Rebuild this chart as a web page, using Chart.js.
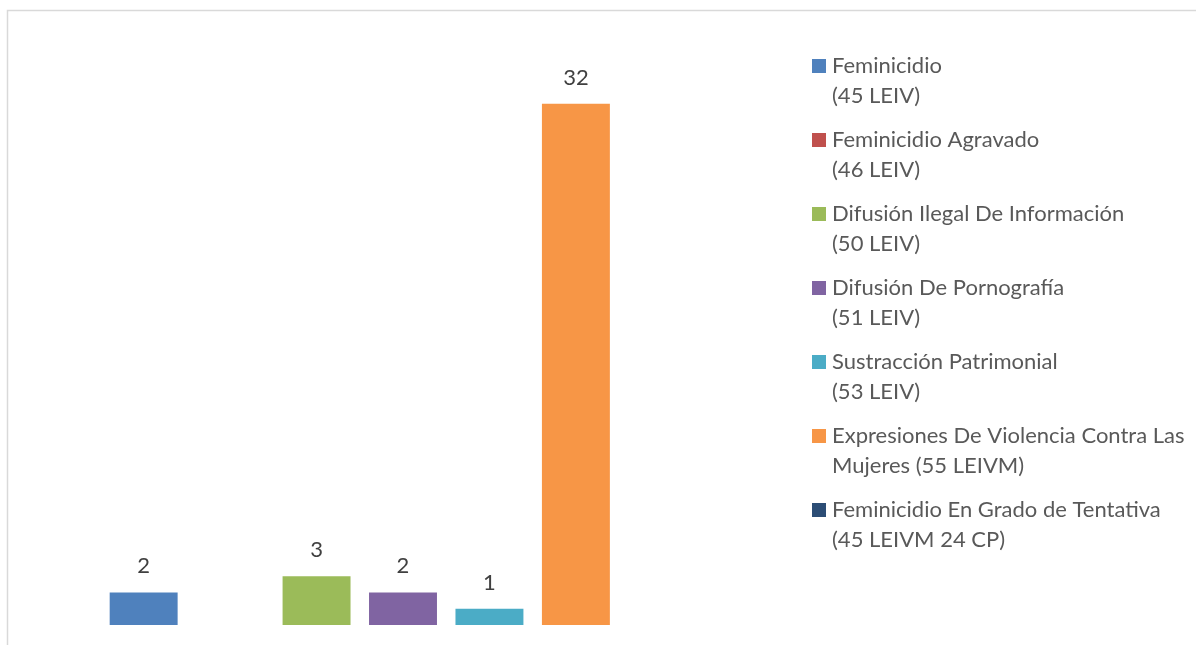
<!DOCTYPE html>
<html>
<head>
<meta charset="utf-8">
<script src="https://cdn.jsdelivr.net/npm/chart.js@4"></script>
<style>
  html, body { margin: 0; padding: 0; background: #ffffff; }
  #wrap { width: 1196px; height: 645px; }
</style>
</head>
<body>
<div id="wrap"><canvas id="c" width="1196" height="645"></canvas></div>
<script>
// ---- data ----
const categories = [''];
const seriesNames = [
  ['Feminicidio', '(45 LEIV)'],
  ['Feminicidio Agravado', '(46 LEIV)'],
  ['Difusión Ilegal De Información', '(50 LEIV)'],
  ['Difusión De Pornografía', '(51 LEIV)'],
  ['Sustracción Patrimonial', '(53 LEIV)'],
  ['Expresiones De Violencia Contra Las', 'Mujeres (55 LEIVM)'],
  ['Feminicidio En Grado de Tentativa', '(45 LEIVM 24 CP)']
];
const seriesValues = [2, null, 3, 2, 1, 32, null];
const seriesColors = ['#4F81BD', '#C0504D', '#9BBB59', '#8064A2', '#4BACC6', '#F79646', '#2C4D75'];

const FONT = 'Lato, "Open Sans", sans-serif';

const datasets = seriesNames.map((n, i) => ({
  label: n.join(' '),
  data: [seriesValues[i]],
  backgroundColor: seriesColors[i],
  borderWidth: 0,
  barPercentage: 0.786,
  categoryPercentage: 0.79
}));

const borderPlugin = {
  id: 'outerBorder',
  beforeDraw(chart) {
    const ctx = chart.ctx;
    ctx.save();
    ctx.fillStyle = '#ffffff';
    ctx.fillRect(0, 0, chart.width, chart.height);
    ctx.strokeStyle = '#d9d9d9';
    ctx.lineWidth = 1.5;
    ctx.strokeRect(7.5, 10.5, 1400, 1000);
    ctx.restore();
  }
};

const labelPlugin = {
  id: 'valueLabels',
  afterDatasetsDraw(chart) {
    const ctx = chart.ctx;
    ctx.save();
    ctx.font = '22px ' + FONT;
    ctx.fillStyle = '#404040';
    ctx.textAlign = 'center';
    ctx.textBaseline = 'alphabetic';
    chart.data.datasets.forEach((ds, i) => {
      const meta = chart.getDatasetMeta(i);
      meta.data.forEach((bar, j) => {
        const v = ds.data[j];
        if (v === null || v === undefined) return;
        ctx.fillText(String(v), bar.x, bar.y - 19);
      });
    });
    ctx.restore();
  }
};

const legendPlugin = {
  id: 'sideLegend',
  afterDraw(chart) {
    const ctx = chart.ctx;
    ctx.save();
    ctx.font = '22px ' + FONT;
    ctx.textBaseline = 'alphabetic';
    ctx.textAlign = 'left';
    chart.data.datasets.forEach((ds, i) => {
      const base = 72.5 + 74 * i;
      ctx.fillStyle = ds.backgroundColor;
      ctx.fillRect(812, base - 13.5, 14, 14);
      ctx.fillStyle = '#595959';
      seriesNames[i].forEach((line, k) => {
        ctx.fillText(line, 832, base + 30 * k);
      });
    });
    ctx.restore();
  }
};

new Chart(document.getElementById('c'), {
  type: 'bar',
  data: { labels: categories, datasets },
  options: {
    responsive: false,
    animation: false,
    layout: { padding: { left: 20, right: 410, top: 55, bottom: 20 } },
    plugins: { legend: { display: false }, tooltip: { enabled: false } },
    scales: {
      x: { display: false, grid: { display: false } },
      y: { display: false, min: 0, max: 35, grid: { display: false } }
    }
  },
  plugins: [borderPlugin, labelPlugin, legendPlugin]
});
</script>
</body>
</html>
